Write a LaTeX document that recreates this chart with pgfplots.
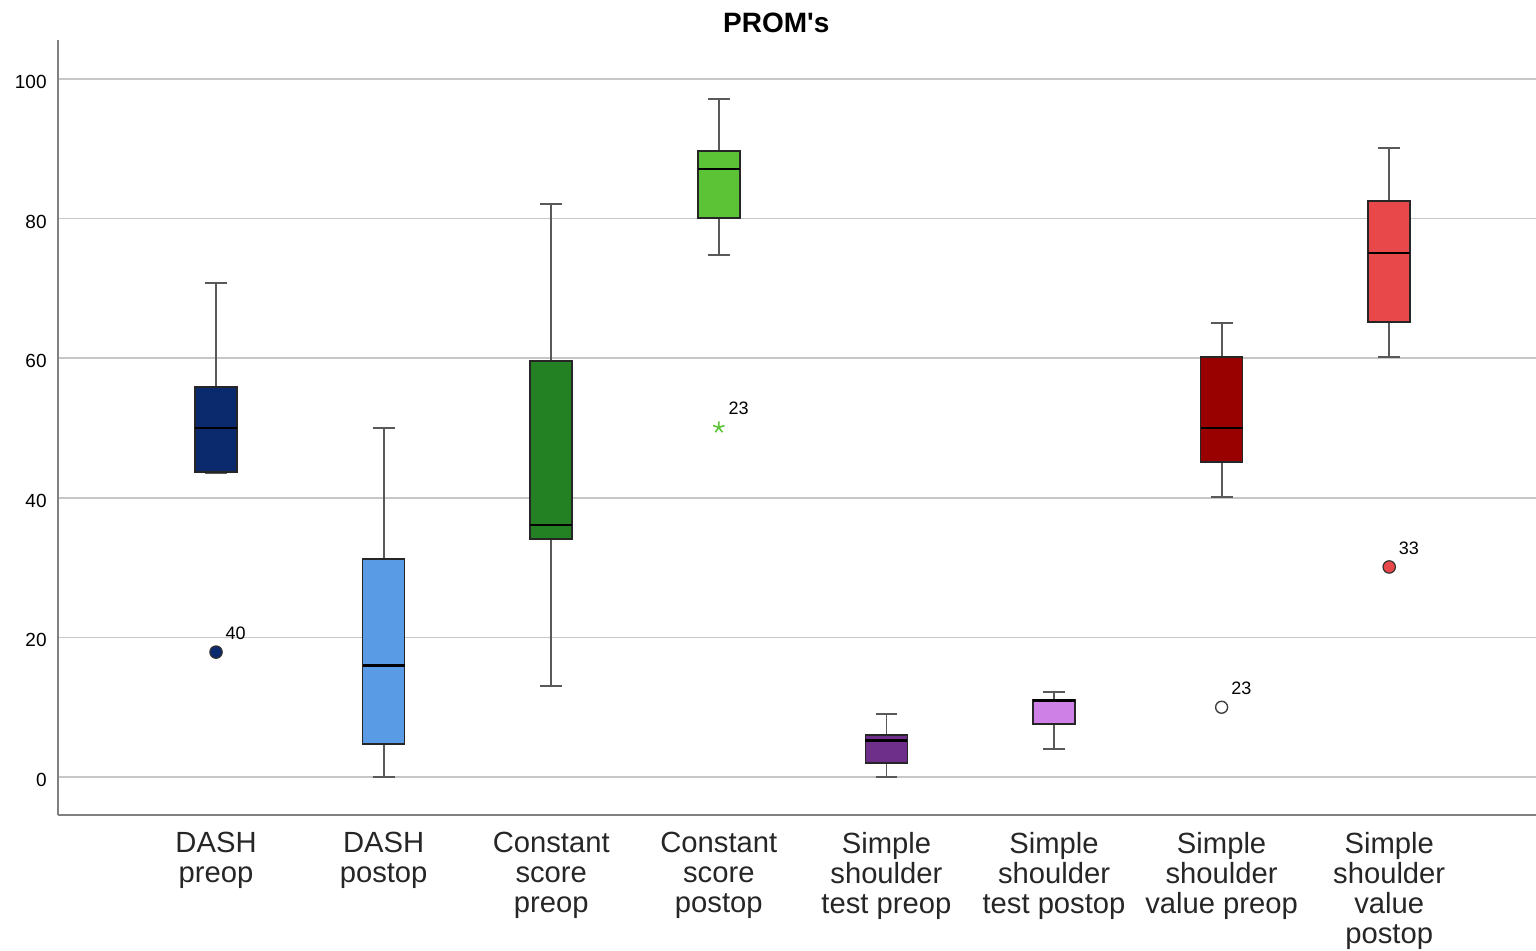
\documentclass[border=0pt]{standalone}
\usepackage{fontspec}
\setmainfont{Liberation Sans}
\usepackage{pgfplots}
\usepgfplotslibrary{statistics}
\pgfplotsset{compat=1.18}
\definecolor{c1}{HTML}{0B2A6E}
\definecolor{c2}{HTML}{5A9BE6}
\definecolor{c3}{HTML}{238023}
\definecolor{c4}{HTML}{5CC236}
\definecolor{c5}{HTML}{6E2F8A}
\definecolor{c6}{HTML}{CE80E6}
\definecolor{c7}{HTML}{990000}
\definecolor{c8}{HTML}{E8484A}
\begin{document}
\begin{tikzpicture}
\useasboundingbox (-29pt,-67.5pt) rectangle (739pt,407.5pt);
\begin{axis}[
  scale only axis, width=739pt, height=387.5pt,
  xmin=-0.943, xmax=7.876, ymin=-5.44, ymax=105.6,
  axis x line*=bottom, axis y line*=left,
  axis line style={-, draw=black!50, line width=0.8pt},
  major tick length=0pt,
  ytick={0,20,40,60,80,100},
  xtick={0,1,2,3,4,5,6,7},
  xticklabels={{DASH\\preop},{DASH\\postop},{Constant\\score\\preop},{Constant\\score\\postop},{Simple\\shoulder\\test preop},{Simple\\shoulder\\test postop},{Simple\\shoulder\\value preop},{Simple\\shoulder\\value\\postop}},
  xticklabel style={align=center, anchor=north, inner sep=0pt, yshift=-8.3pt, font=\fontsize{14.6}{15}\selectfont, text=black!85},
  yticklabel style={anchor=east, inner sep=0pt, xshift=-5.5pt, yshift=-1.5pt, font=\fontsize{9.5}{10}\selectfont},
  /pgf/number format/assume math mode=true,
  ymajorgrids, grid style={draw=black!22, line width=0.8pt},
  title={PROM\textquotesingle s},
  title style={at={(0.486,1)}, anchor=base, yshift=-2pt, font=\bfseries\fontsize{14}{14}\selectfont},
  boxplot/draw direction=y,
  boxplot/box extend=0.25,
  boxplot/whisker extend=0.13,
  boxplot/every box/.style={draw=black!85, line width=0.8pt},
  boxplot/every whisker/.style={draw=black!65, line width=0.9pt},
  boxplot/every median/.style={draw=black, line width=1.3pt},
  clip=false,
]
\addplot[fill=c1, boxplot prepared={draw position=0, lower whisker=43.5, lower quartile=43.7, median=50, upper quartile=55.9, upper whisker=70.8}] coordinates {};
\addplot[fill=c2, boxplot prepared={draw position=1, lower whisker=0, lower quartile=4.7, median=16, upper quartile=31.2, upper whisker=50}] coordinates {};
\addplot[fill=c3, boxplot prepared={draw position=2, lower whisker=13, lower quartile=34.1, median=36.1, upper quartile=59.6, upper whisker=82.1}] coordinates {};
\addplot[fill=c4, boxplot prepared={draw position=3, lower whisker=74.8, lower quartile=80.1, median=87.1, upper quartile=89.7, upper whisker=97.1}] coordinates {};
\addplot[fill=c5, boxplot prepared={draw position=4, lower whisker=0, lower quartile=2, median=5.2, upper quartile=6, upper whisker=9}] coordinates {};
\addplot[fill=c6, boxplot prepared={draw position=5, lower whisker=4, lower quartile=7.6, median=11, upper quartile=11, upper whisker=12.2}] coordinates {};
\addplot[fill=c7, boxplot prepared={draw position=6, lower whisker=40.1, lower quartile=45.1, median=50, upper quartile=60.2, upper whisker=65}] coordinates {};
\addplot[fill=c8, boxplot prepared={draw position=7, lower whisker=60.2, lower quartile=65.2, median=75.1, upper quartile=82.5, upper whisker=90.1}] coordinates {};
% outliers
\pgfplotsset{outl/.style={only marks, nodes near coords, point meta=explicit symbolic,
  nodes near coords style={anchor=south west, inner sep=0pt, xshift=4.5pt, yshift=6pt, font=\fontsize{9}{9}\selectfont, text=black}}}
\addplot[outl, mark=*, mark size=3.1pt, mark options={fill=c1, draw=black!80, line width=0.6pt}] coordinates {(0,17.9) [40]};
\addplot[outl, mark=star, mark size=3pt, mark options={draw=c4, line width=0.8pt}] coordinates {(3,50.1) [23]};
\addplot[outl, mark=*, mark size=3pt, mark options={fill=white, draw=black!75, line width=0.7pt}] coordinates {(6,10) [23]};
\addplot[outl, mark=*, mark size=3.1pt, mark options={fill=c8, draw=black!80, line width=0.6pt}] coordinates {(7,30.1) [33]};
\end{axis}
\end{tikzpicture}
\end{document}
